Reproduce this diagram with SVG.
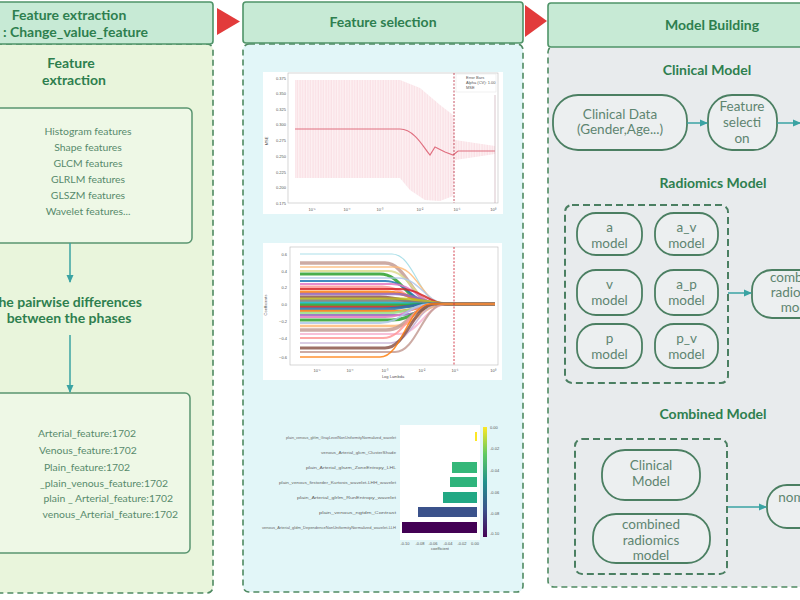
<svg xmlns="http://www.w3.org/2000/svg" width="800" height="600" viewBox="0 0 800 600">
<defs>
<style>
.hdr{fill:#c7ead5;stroke:#4f9468;stroke-width:1.6}
.pnl{stroke:#4f8a62;stroke-width:1.6;stroke-dasharray:6 4}
.title{font-family:Lato,"Open Sans","Liberation Sans",sans-serif;font-weight:bold;font-size:14px;fill:#2e7f4f;text-anchor:middle}
.box{fill:#eef8e6;stroke:#5a9570;stroke-width:1.5}
.t{font-family:Lato,"Liberation Sans",sans-serif;font-size:10.4px;fill:#578a6c;text-anchor:middle}
.node{fill:#eceff0;stroke:#4b7f62;stroke-width:1.8}
.nt{font-family:Lato,"Liberation Sans",sans-serif;font-size:13.5px;fill:#5e8570;text-anchor:middle}
.grp{fill:none;stroke:#4b7f62;stroke-width:2;stroke-dasharray:7 4}
.arr{stroke:#3aa3a3;stroke-width:1.5;fill:none;marker-end:url(#ah)}
.tick{font-family:"Liberation Sans",sans-serif;font-size:4px;fill:#555}
.tickr{font-family:"Liberation Sans",sans-serif;font-size:4px;fill:#555;text-anchor:end}
.tickm{font-family:"Liberation Sans",sans-serif;font-size:4px;fill:#555;text-anchor:middle}
.flab{font-family:"Liberation Sans",sans-serif;font-size:3.6px;fill:#666;text-anchor:end}
</style>
<marker id="ah" markerWidth="8" markerHeight="8" refX="7" refY="4" orient="auto" markerUnits="userSpaceOnUse"><path d="M0,0.5 L8,4 L0,7.5z" fill="#3aa3a3"/></marker>
<pattern id="eb" width="2.6" height="10" patternUnits="userSpaceOnUse"><line x1="1" y1="0" x2="1" y2="10" stroke="#f5cbd4" stroke-width="0.6"/></pattern>
<linearGradient id="vir" x1="0" y1="1" x2="0" y2="0">
<stop offset="0" stop-color="#440154"/><stop offset="0.25" stop-color="#3b528b"/><stop offset="0.5" stop-color="#21918c"/><stop offset="0.75" stop-color="#5ec962"/><stop offset="1" stop-color="#fde725"/>
</linearGradient>
</defs>
<rect width="800" height="600" fill="#ffffff"/>

<!-- Panel 1 -->
<g id="panel-extraction">
<rect class="pnl" x="-20" y="44" width="233" height="549" rx="6" fill="#e9f5dc"/>
<rect class="hdr" x="-20" y="2" width="233" height="42" rx="3"/>
<text class="title" x="69" y="20">Feature extraction</text>
<text class="title" x="148" y="37" style="text-anchor:end">: Change_value_feature</text>
<text class="title" x="71" y="68">Feature</text>
<text class="title" x="74" y="85">extraction</text>
</g>
<g id="node-features">
<rect class="box" x="-14" y="108" width="206" height="135" rx="5"/>
<text class="t" x="88" y="135">Histogram features</text>
<text class="t" x="88" y="151">Shape features</text>
<text class="t" x="88" y="167">GLCM features</text>
<text class="t" x="88" y="183">GLRLM features</text>
<text class="t" x="88" y="199">GLSZM features</text>
<text class="t" x="88" y="215">Wavelet features...</text>
</g>
<g id="node-differences">
<text class="title" x="66" y="307">The pairwise differences</text>
<text class="title" x="69" y="323">between the phases</text>
</g>
<g id="node-counts">
<rect class="box" x="-14" y="393" width="204" height="160" rx="5"/>
<text class="t" x="87" y="437">Arterial_feature:1702</text>
<text class="t" x="88" y="454">Venous_feature:1702</text>
<text class="t" x="87" y="471">Plain_feature:1702</text>
<text class="t" x="168" y="487" style="text-anchor:end">_plain_venous_feature:1702</text>
<text class="t" x="173" y="502" style="text-anchor:end">plain _ Arterial_feature:1702</text>
<text class="t" x="178" y="518" style="text-anchor:end">venous_Arterial_feature:1702</text>
</g>

<!-- Panel 2 -->
<g id="panel-selection">
<rect class="pnl" x="243" y="44" width="280" height="548" rx="6" fill="#e2f6f8"/>
<rect class="hdr" x="243" y="2" width="280" height="41" rx="3"/>
<text class="title" x="383" y="27">Feature selection</text>
</g>

<g id="chart-cv">
<rect x="263" y="72" width="240" height="142" fill="#ffffff"/>
<polygon points="295,80 400,80 420,88 440,105 453,115 455,140 495,146 495,154 455,160 453,196 440,201 425,200 410,190 400,178 295,178" fill="#fdf1f3"/>
<polygon points="295,80 400,80 420,88 440,105 453,115 455,140 495,146 495,154 455,160 453,196 440,201 425,200 410,190 400,178 295,178" fill="url(#eb)"/>
<rect x="288" y="73" width="210" height="130" fill="none" stroke="#bbbbbb" stroke-width="0.6"/>
<path d="M295,129H400C415,129 425,150 430,155L435,147L445,152L453,155L458,151H495" fill="none" stroke="#e07080" stroke-width="1.2"/>
<line x1="454" y1="73" x2="454" y2="203" stroke="#c04050" stroke-width="0.9" stroke-dasharray="2 1.5"/>
<line x1="495" y1="95" x2="495" y2="203" stroke="#c0a0a8" stroke-width="0.6"/>
<rect x="456" y="74" width="40" height="18" fill="#ffffff" stroke="#dddddd" stroke-width="0.4"/>
<text class="tick" x="466" y="79">Error Bars</text>
<text class="tick" x="466" y="84">Alpha (CV): 1.00</text>
<text class="tick" x="466" y="89">MSE</text>
<text class="tickr" x="286" y="80">0.375</text>
<text class="tickr" x="286" y="95">0.350</text>
<text class="tickr" x="286" y="111">0.325</text>
<text class="tickr" x="286" y="126">0.300</text>
<text class="tickr" x="286" y="142">0.275</text>
<text class="tickr" x="286" y="158">0.250</text>
<text class="tickr" x="286" y="174">0.225</text>
<text class="tickr" x="286" y="189">0.200</text>
<text class="tickr" x="286" y="205">0.175</text>
<text class="tickm" x="268" y="141" transform="rotate(-90 268 141)">MSE</text>
<text class="tickm" x="312" y="211">10⁻⁵</text>
<text class="tickm" x="347" y="211">10⁻⁴</text>
<text class="tickm" x="380" y="211">10⁻³</text>
<text class="tickm" x="420" y="211">10⁻²</text>
<text class="tickm" x="457" y="211">10⁻¹</text>
<text class="tickm" x="493" y="211">10⁰</text>
</g>

<g id="chart-lasso">
<rect x="263" y="243" width="239" height="137" fill="#ffffff"/>
<rect x="290" y="247" width="208" height="118" fill="none" stroke="#bbbbbb" stroke-width="0.6"/>
<g fill="none" stroke-opacity="0.85">
<path d="M300,254H392C414,254 420,304 442,304H495" stroke="#9edae5" stroke-width="1.2"/>
<path d="M300,263H385C407,263 413,304 435,304H495" stroke="#c49c94" stroke-width="3.5"/>
<path d="M300,267H395C417,267 423,304 445,304H495" stroke="#ffbb78" stroke-width="1.5"/>
<path d="M300,271H388C410,271 416,304 438,304H495" stroke="#dbdb8d" stroke-width="2"/>
<path d="M300,274H380C402,274 408,304 430,304H495" stroke="#2ca02c" stroke-width="3"/>
<path d="M300,278H398C420,278 426,304 448,304H495" stroke="#aec7e8" stroke-width="1.5"/>
<path d="M300,281H385C407,281 413,304 435,304H495" stroke="#1f77b4" stroke-width="2"/>
<path d="M300,284H392C414,284 420,304 442,304H495" stroke="#e377c2" stroke-width="2"/>
<path d="M300,287H382C404,287 410,304 432,304H495" stroke="#ff9896" stroke-width="3"/>
<path d="M300,289H400C422,289 428,304 450,304H495" stroke="#d62728" stroke-width="2"/>
<path d="M300,292H388C410,292 416,304 438,304H495" stroke="#ff7f0e" stroke-width="3"/>
<path d="M300,294H395C417,294 423,304 445,304H495" stroke="#9467bd" stroke-width="2.5"/>
<path d="M300,297H380C402,297 408,304 430,304H495" stroke="#8c564b" stroke-width="3"/>
<path d="M300,299H402C424,299 430,304 452,304H495" stroke="#bcbd22" stroke-width="3"/>
<path d="M300,301H390C412,301 418,304 440,304H495" stroke="#7f7f7f" stroke-width="3"/>
<path d="M300,303H385C407,303 413,304 435,304H495" stroke="#17becf" stroke-width="2.5"/>
<path d="M300,305H398C420,305 426,304 448,304H495" stroke="#2ca02c" stroke-width="3"/>
<path d="M300,307H392C414,307 420,304 442,304H495" stroke="#d62728" stroke-width="2.5"/>
<path d="M300,309H383C405,309 411,304 433,304H495" stroke="#1f77b4" stroke-width="3"/>
<path d="M300,311H396C418,311 424,304 446,304H495" stroke="#ff7f0e" stroke-width="2.5"/>
<path d="M300,313H388C410,313 416,304 438,304H495" stroke="#98df8a" stroke-width="2.5"/>
<path d="M300,315H400C422,315 428,304 450,304H495" stroke="#9467bd" stroke-width="2"/>
<path d="M300,317H385C407,317 413,304 435,304H495" stroke="#e377c2" stroke-width="2"/>
<path d="M300,320H392C414,320 420,304 442,304H495" stroke="#2ca02c" stroke-width="3"/>
<path d="M300,323H380C402,323 408,304 430,304H495" stroke="#aec7e8" stroke-width="2"/>
<path d="M300,326H395C417,326 423,304 445,304H495" stroke="#ffbb78" stroke-width="2.5"/>
<path d="M300,330H386C408,330 414,304 436,304H495" stroke="#c49c94" stroke-width="3.5"/>
<path d="M300,334H398C420,334 426,304 448,304H495" stroke="#f7b6d2" stroke-width="2"/>
<path d="M300,338H383C405,338 411,304 433,304H495" stroke="#ff9896" stroke-width="2"/>
<path d="M300,343H390C412,343 418,304 440,304H495" stroke="#c5b0d5" stroke-width="1.5"/>
<path d="M300,348H385C407,348 413,304 435,304H495" stroke="#8c564b" stroke-width="3"/>
<path d="M300,352H395C417,352 423,304 445,304H495" stroke="#c49c94" stroke-width="2"/>
<path d="M300,357H380C402,357 408,304 430,304H495" stroke="#ff7f0e" stroke-width="1.5"/>
</g>
<line x1="454" y1="247" x2="454" y2="365" stroke="#d03040" stroke-width="0.9" stroke-dasharray="2 1.5"/>
<text class="tickr" x="287" y="256">0.6</text>
<text class="tickr" x="287" y="273">0.4</text>
<text class="tickr" x="287" y="289">0.2</text>
<text class="tickr" x="287" y="306">0.0</text>
<text class="tickr" x="287" y="323">−0.2</text>
<text class="tickr" x="287" y="340">−0.4</text>
<text class="tickr" x="287" y="359">−0.6</text>
<text class="tickm" x="267" y="305" transform="rotate(-90 267 305)">Coefficients</text>
<text class="tickm" x="317" y="372">10⁻⁵</text>
<text class="tickm" x="350" y="372">10⁻⁴</text>
<text class="tickm" x="385" y="372">10⁻³</text>
<text class="tickm" x="422" y="372">10⁻²</text>
<text class="tickm" x="455" y="372">10⁻¹</text>
<text class="tickm" x="493" y="372">10⁰</text>
<text class="tickm" x="393" y="378">Log Lambda</text>
</g>

<g id="chart-bars">
<rect x="400" y="425" width="80" height="115" fill="#ffffff"/>
<rect x="475" y="432" width="2" height="9" fill="#fde725"/>
<rect x="452" y="462" width="25" height="11" fill="#35b779"/>
<rect x="450" y="477" width="27" height="10" fill="#2fb47c"/>
<rect x="443" y="492" width="34" height="11" fill="#22a884"/>
<rect x="418" y="507" width="59" height="10" fill="#3b528b"/>
<rect x="402" y="522" width="75" height="11" fill="#440154"/>
<rect x="483" y="427" width="4" height="110" fill="url(#vir)"/>
<text class="tick" x="490" y="429">0.00</text>
<text class="tick" x="490" y="450">-0.02</text>
<text class="tick" x="490" y="472">-0.04</text>
<text class="tick" x="490" y="494">-0.06</text>
<text class="tick" x="490" y="515">-0.08</text>
<text class="tick" x="490" y="535">-0.10</text>
<text class="tickm" x="405" y="545">-0.10</text>
<text class="tickm" x="420" y="545">-0.08</text>
<text class="tickm" x="433" y="545">-0.06</text>
<text class="tickm" x="448" y="545">-0.04</text>
<text class="tickm" x="462" y="545">-0.02</text>
<text class="tickm" x="475" y="545">0.00</text>
<text class="tickm" x="440" y="550">coefficient</text>
<text class="flab" x="396" y="439" textLength="110" lengthAdjust="spacingAndGlyphs">plain_venous_glrlm_GrayLevelNonUniformityNormalized_wavelet</text>
<text class="flab" x="396" y="454" textLength="75" lengthAdjust="spacingAndGlyphs">venous_Arterial_glcm_ClusterShade</text>
<text class="flab" x="396" y="469" textLength="90" lengthAdjust="spacingAndGlyphs">plain_Arterial_glszm_ZoneEntropy_LHL</text>
<text class="flab" x="396" y="484" textLength="117" lengthAdjust="spacingAndGlyphs">plain_venous_firstorder_Kurtosis_wavelet-LHH_wavelet</text>
<text class="flab" x="396" y="499" textLength="99" lengthAdjust="spacingAndGlyphs">plain_Arterial_glrlm_RunEntropy_wavelet</text>
<text class="flab" x="396" y="514" textLength="77" lengthAdjust="spacingAndGlyphs">plain_venous_ngtdm_Contrast</text>
<text class="flab" x="396" y="529" textLength="134" lengthAdjust="spacingAndGlyphs">venous_Arterial_gldm_DependenceNonUniformityNormalized_wavelet-LLH</text>
</g>

<!-- Panel 3 -->
<g id="panel-model">
<rect class="pnl" x="548" y="46" width="270" height="541" rx="6" fill="#e8ebed"/>
<rect class="hdr" x="548" y="3" width="270" height="44" rx="3"/>
<text class="title" x="712" y="30">Model Building</text>
<text class="title" x="707" y="75">Clinical Model</text>
<text class="title" x="713" y="188">Radiomics Model</text>
<text class="title" x="713" y="419">Combined Model</text>
</g>

<g id="node-clinical-data">
<rect class="node" x="553" y="95" width="134" height="55" rx="25"/>
<text class="nt" x="620" y="119">Clinical Data</text>
<text class="nt" x="620" y="134">(Gender,Age...)</text>
</g>
<g id="node-feature-selection">
<rect class="node" x="708" y="95" width="69" height="55" rx="24"/>
<text class="nt" x="742" y="111">Feature</text>
<text class="nt" x="742" y="127">selecti</text>
<text class="nt" x="742" y="143">on</text>
</g>

<g id="group-radiomics">
<rect class="grp" x="565" y="205" width="163" height="178" rx="7"/>
</g>
<g id="node-a"><rect class="node" x="577" y="213" width="65" height="42" rx="19"/><text class="nt" x="609.5" y="232">a</text><text class="nt" x="609.5" y="248">model</text></g>
<g id="node-a_v"><rect class="node" x="655" y="213" width="63" height="42" rx="19"/><text class="nt" x="686.5" y="232">a_v</text><text class="nt" x="686.5" y="248">model</text></g>
<g id="node-v"><rect class="node" x="577" y="270" width="65" height="45" rx="19"/><text class="nt" x="609.5" y="289">v</text><text class="nt" x="609.5" y="305">model</text></g>
<g id="node-a_p"><rect class="node" x="655" y="270" width="63" height="45" rx="19"/><text class="nt" x="686.5" y="289">a_p</text><text class="nt" x="686.5" y="305">model</text></g>
<g id="node-p"><rect class="node" x="577" y="324" width="65" height="44" rx="19"/><text class="nt" x="609.5" y="343">p</text><text class="nt" x="609.5" y="359">model</text></g>
<g id="node-p_v"><rect class="node" x="655" y="324" width="63" height="44" rx="19"/><text class="nt" x="686.5" y="343">p_v</text><text class="nt" x="686.5" y="359">model</text></g>

<g id="node-combined-radiomics">
<rect class="node" x="752" y="270" width="90" height="48" rx="20"/>
<text class="nt" x="799" y="282">combined</text>
<text class="nt" x="799" y="297">radiomics</text>
<text class="nt" x="799" y="312">model</text>
</g>

<g id="group-combined">
<rect class="grp" x="575" y="439" width="152" height="135" rx="7"/>
</g>
<g id="node-clinical-model">
<rect class="node" x="602" y="450" width="98" height="50" rx="23"/>
<text class="nt" x="651" y="470">Clinical</text>
<text class="nt" x="651" y="486">Model</text>
</g>
<g id="node-combined-radiomics-model">
<rect class="node" x="593" y="514" width="117" height="49" rx="23"/>
<text class="nt" x="651" y="529">combined</text>
<text class="nt" x="651" y="545">radiomics</text>
<text class="nt" x="651" y="560">model</text>
</g>
<g id="node-nomogram">
<rect class="node" x="767" y="485" width="90" height="43" rx="20"/>
<text class="nt" x="810" y="502">nomogram</text>
</g>

<!-- Connectors -->
<g id="connectors">
<polygon points="217,8 240,21.5 217,35" fill="#e23b3b"/>
<polygon points="525,5 547,21 525,37" fill="#e23b3b"/>
<line class="arr" x1="70" y1="243" x2="70" y2="282"/>
<line class="arr" x1="70" y1="335" x2="70" y2="392"/>
<line class="arr" x1="687" y1="123" x2="707" y2="123"/>
<line class="arr" x1="777" y1="123" x2="800" y2="123"/>
<line class="arr" x1="728" y1="293" x2="751" y2="293"/>
<line class="arr" x1="728" y1="507" x2="766" y2="507"/>
</g>
</svg>
